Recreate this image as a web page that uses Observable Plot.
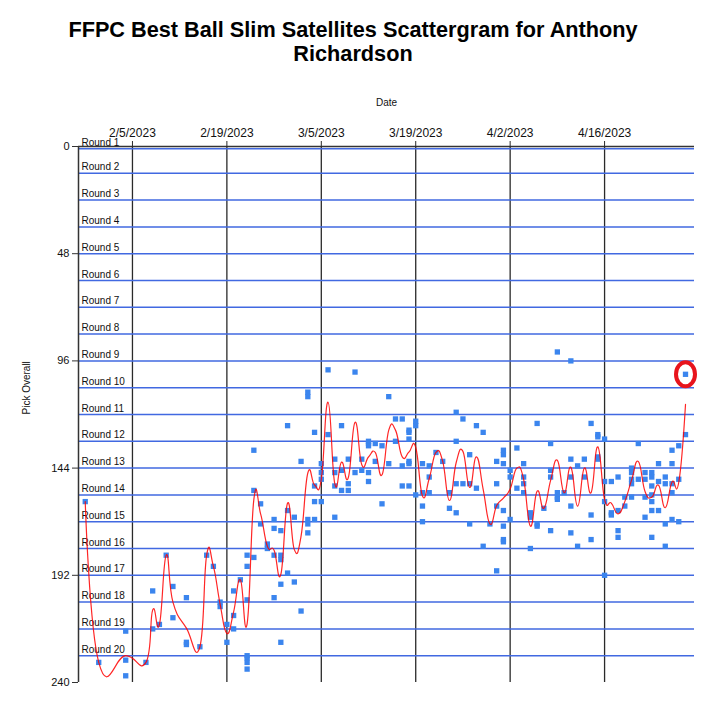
<!DOCTYPE html>
<html><head><meta charset="utf-8">
<script src="https://cdn.jsdelivr.net/npm/d3@7"></script>
<script src="https://cdn.jsdelivr.net/npm/@observablehq/plot@0.6"></script>
<style>html,body{margin:0;padding:0;background:#fff;overflow:hidden}</style>
</head><body><div id="chart"></div>
<script>
const title1 = "FFPC Best Ball Slim Satellites Scattergram for Anthony";
const title2 = "Richardson";
const xLabel = "Date";
const yLabel = "Pick Overall";

const dates = [
  "2023-01-29","2023-01-31","2023-02-04","2023-02-07","2023-02-08","2023-02-09","2023-02-10","2023-02-11",
  "2023-02-13","2023-02-15","2023-02-16","2023-02-17","2023-02-18","2023-02-19","2023-02-20","2023-02-21",
  "2023-02-22","2023-02-23","2023-02-24","2023-02-25","2023-02-26","2023-02-27","2023-02-28","2023-03-01",
  "2023-03-02","2023-03-03","2023-03-04","2023-03-05","2023-03-06","2023-03-07","2023-03-08","2023-03-09",
  "2023-03-10","2023-03-11","2023-03-12","2023-03-13","2023-03-14","2023-03-15","2023-03-16","2023-03-17",
  "2023-03-18","2023-03-19","2023-03-20","2023-03-21","2023-03-22","2023-03-23","2023-03-24","2023-03-25",
  "2023-03-26","2023-03-27","2023-03-28","2023-03-29","2023-03-30","2023-03-31","2023-04-01","2023-04-02",
  "2023-04-03","2023-04-04","2023-04-05","2023-04-06","2023-04-07","2023-04-08","2023-04-09","2023-04-10",
  "2023-04-11","2023-04-12","2023-04-13","2023-04-14","2023-04-15","2023-04-16","2023-04-17","2023-04-18",
  "2023-04-19","2023-04-20","2023-04-21","2023-04-22","2023-04-23","2023-04-24","2023-04-25","2023-04-26",
  "2023-04-27","2023-04-28"
];
const picks = [
  [159],[231],[217,230,237],[231],[199,216],[214],[183],[197,211],
  [202,222,223],[224],[183],[188],[204,206],[214,222],[199,210,216],[194],
  [183,188,203,228,229,231,234],[136,154,184],[160,169],[178,180],[167,171,183,202],[172,183,185,196,222],[125,163,191],[166,195],
  [141,208],[110,112,167,169,173],[128,152,159,167],[142,146,149,159],[100,129],[140,146,152,166],[125,145,154],[140,151,154],
  [101,146],[140,145],[132,133,134,146,150],[133,141],[134,160],[112,142],[122,132],[122,143,152],
  [127,128,131,141,142,152],[123,125,156],[142,155,161,168],[143,148,155],[137],[141],[155,162],[119,132,151,164],
  [122,151],[138,151,169],[125,153],[128,179],[169],[141,151,161,190],[136,138,142,163,170,176,177],[145,148,167],
  [135,153],[142,148,151,155],[164,166,180],[124,169,170],[162],[133,145,148,172],[92,155,157,158],[155],
  [96,140,148,161,173],[143,179],[140,148],[124,165,176],[129,130,139,140],[131,150,159,192],[150,164,165],[148,163,172,175],
  [157,161],[144,146,149,151,157],[133,149],[146,149,157,166],[146,148,152,156,159,163,175],[142,150,163],[148,151,169,179],[136,142,151,155,167],
  [134,149,168],[102,129]
];
const xTickLabels = ["2023-02-05","2023-02-19","2023-03-05","2023-03-19","2023-04-02","2023-04-16"];
const yTicks = [0,48,96,144,192,240];
const roundNames = Array.from({length: 20}, (_, i) => "Round " + (i + 1));
const roundLines = [1,12,24,36,48,60,72,84,96,108,120,132,144,156,168,180,192,204,216,228];
const highlight = [{date: "2023-04-28", pick: 102}];

const points = dates.flatMap((d, i) => picks[i].map(p => ({date: new Date(d), pick: p})));
const xTicks = xTickLabels.map(d => new Date(d));
const hl = highlight.map(h => ({date: new Date(h.date), pick: h.pick}));
const fmt = d => `${d.getUTCMonth() + 1}/${d.getUTCDate()}/${d.getUTCFullYear()}`;

const ellipse = {
  draw(ctx) {
    const rx = 9.5, ry = 12, k = 0.5523;
    ctx.moveTo(rx, 0);
    ctx.bezierCurveTo(rx, k * ry, k * rx, ry, 0, ry);
    ctx.bezierCurveTo(-k * rx, ry, -rx, k * ry, -rx, 0);
    ctx.bezierCurveTo(-rx, -k * ry, -k * rx, -ry, 0, -ry);
    ctx.bezierCurveTo(k * rx, -ry, rx, -k * ry, rx, 0);
    ctx.closePath();
  }
};

const font = "Liberation Sans, Arial, Helvetica, sans-serif";
const chart = Plot.plot({
  width: 705, height: 709,
  marginLeft: 78, marginRight: 11, marginTop: 146, marginBottom: 27,
  style: {fontFamily: font, fontSize: "10px", background: "white", color: "#111"},
  x: {type: "utc", domain: [new Date("2023-01-28"), new Date("2023-04-29T08:00:00Z")]},
  y: {domain: [0, 240], reverse: true},
  marks: [
    Plot.ruleX(xTicks, {y1: 0, y2: 240, stroke: "#2a2a2a", strokeWidth: 1.3}),
    Plot.ruleY(roundLines, {stroke: "#4169e1", strokeWidth: 1.5}),
    Plot.ruleY([0], {stroke: "#333", strokeWidth: 1.5}),
    Plot.ruleX([new Date("2023-01-28")], {y1: 0, y2: 240, stroke: "#333", strokeWidth: 1.5}),
    Plot.axisX({ticks: xTicks, anchor: "top", tickFormat: fmt, tickSize: 6, tickPadding: 4, fontSize: 12, label: null, stroke: "#2a2a2a"}),
    Plot.axisY({ticks: yTicks, anchor: "left", tickSize: 6, tickPadding: 3, fontSize: 11, label: null, stroke: "#333"}),
    Plot.text(roundLines, {y: d => d, text: (d, i) => roundNames[i], frameAnchor: "left", textAnchor: "start", lineAnchor: "bottom", dx: 3, dy: -3, fontSize: 10, fill: "#111"}),
    Plot.dot(points, {x: "date", y: "pick", symbol: "square", r: 3, fill: "#3b85ee"}),
    Plot.lineY(points, Plot.groupX({y: "mean"}, {x: "date", y: "pick", stroke: "red", strokeWidth: 1.2, strokeOpacity: 0.85, curve: "cardinal", tension: -0.4})),
    Plot.dot(hl, {x: "date", y: "pick", symbol: ellipse, stroke: "#e8141c", strokeWidth: 4, fill: "none"}),
    Plot.text([title1], {text: d => d, frameAnchor: "top", dx: -33.5, dy: -116, lineAnchor: "middle", fontSize: 21.7, fontWeight: "bold", fill: "#000"}),
    Plot.text([title2], {text: d => d, frameAnchor: "top", dx: -33.5, dy: -92, lineAnchor: "middle", fontSize: 21.7, fontWeight: "bold", fill: "#000"}),
    Plot.text([xLabel], {text: d => d, frameAnchor: "top", dy: -44, lineAnchor: "middle", fontSize: 10, fill: "#111"}),
    Plot.text([yLabel], {text: d => d, frameAnchor: "left", dx: -52, rotate: -90, lineAnchor: "middle", fontSize: 10, fill: "#111"})
  ]
});
document.getElementById("chart").appendChild(chart);
</script>
</body></html>
